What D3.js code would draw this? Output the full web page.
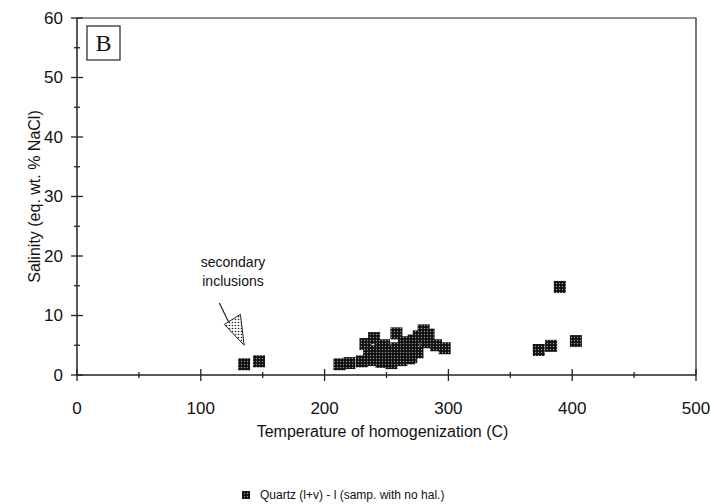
<!DOCTYPE html>
<html lang="en">
<head>
<meta charset="utf-8">
<title>Salinity vs temperature</title>
<style>
  html, body { margin: 0; background: #fff; }
  svg { display: block; font-family: "Liberation Sans", Arial, sans-serif; }
</style>
</head>
<body>
<script src="https://cdn.jsdelivr.net/npm/d3@7/dist/d3.min.js"></script>
<script>
const W = 711, H = 504
const margin = {left: 77, right: 15, top: 18, bottom: 129}

// Quartz (l+v) - l, samples with no halite
const temps = [135, 147,
  212, 220, 230, 238, 246, 254, 262, 270,
  233, 240, 248, 252, 258, 264, 270, 276, 280, 284, 290, 297,
  238, 245, 250, 256, 262, 268, 275, 242, 250, 258, 266, 272, 236, 282,
  373, 383, 390, 403]
const salinity = [1.8, 2.3,
  1.8, 2.0, 2.3, 2.5, 2.2, 2.0, 2.5, 3.0,
  5.2, 6.2, 5.0, 4.0, 7.0, 5.5, 4.5, 6.5, 7.5, 6.8, 5.0, 4.5,
  3.5, 4.5, 3.3, 3.0, 3.8, 2.8, 3.8, 3.0, 2.5, 4.5, 3.5, 5.8, 4.0, 5.5,
  4.2, 4.9, 14.8, 5.7]
const xTicks = [0, 100, 200, 300, 400, 500]
const yTicks = [0, 10, 20, 30, 40, 50, 60]
const xMinor = d3.range(0, 501, 50)
const yMinor = d3.range(0, 61, 5)

const svg = d3.select('body').append('svg')
  .attr('width', W).attr('height', H)

const defs = svg.append('defs')
const pat = defs.append('pattern')
  .attr('id', 'dots').attr('patternUnits', 'userSpaceOnUse')
  .attr('width', 3).attr('height', 3)
pat.append('rect').attr('width', 3).attr('height', 3).attr('fill', '#111')
pat.append('circle').attr('cx', 1.5).attr('cy', 1.5).attr('r', 0.7).attr('fill', '#999')
const pat2 = defs.append('pattern')
  .attr('id', 'hatch').attr('patternUnits', 'userSpaceOnUse')
  .attr('width', 3).attr('height', 3)
pat2.append('rect').attr('width', 3).attr('height', 3).attr('fill', '#fff')
pat2.append('circle').attr('cx', 1.5).attr('cy', 1.5).attr('r', 0.8).attr('fill', '#222')

const x = d3.scaleLinear().domain([0, 500]).range([margin.left, W - margin.right])
const y = d3.scaleLinear().domain([0, 60]).range([H - margin.bottom, margin.top])

// frame
svg.append('path')
  .attr('d', `M${x(0)},${y(60)} H${x(500)} V${y(0)}`)
  .attr('fill', 'none').attr('stroke', '#222').attr('stroke-width', 1.2)

// x axis
const gx = svg.append('g').attr('transform', `translate(0,${y(0)})`)
gx.append('line').attr('x1', x(0)).attr('x2', x(500)).attr('stroke', '#222').attr('stroke-width', 1.5)
gx.selectAll('line.t').data(xMinor).join('line')
  .attr('class', 't')
  .attr('x1', d => x(d)).attr('x2', d => x(d))
  .attr('y1', d => d % 100 === 0 ? -6 : -3).attr('y2', d => d % 100 === 0 ? 6 : 3)
  .attr('stroke', '#222').attr('stroke-width', 1.3)
gx.selectAll('text').data(xTicks).join('text')
  .attr('x', d => x(d)).attr('y', 39)
  .attr('text-anchor', 'middle').attr('font-size', 17).attr('fill', '#111')
  .text(d => d)

// y axis
const gy = svg.append('g').attr('transform', `translate(${x(0)},0)`)
gy.append('line').attr('y1', y(0)).attr('y2', y(60)).attr('stroke', '#222').attr('stroke-width', 1.5)
gy.selectAll('line.t').data(yMinor).join('line')
  .attr('class', 't')
  .attr('y1', d => y(d)).attr('y2', d => y(d))
  .attr('x1', d => d % 10 === 0 ? -6 : -3).attr('x2', d => d % 10 === 0 ? 6 : 3)
  .attr('stroke', '#222').attr('stroke-width', 1.3)
gy.selectAll('text').data(yTicks).join('text')
  .attr('x', -14).attr('y', d => y(d)).attr('dy', '0.35em')
  .attr('text-anchor', 'end').attr('font-size', 17).attr('fill', '#111')
  .text(d => d)

// axis titles
svg.append('text')
  .attr('x', (x(0) + x(500)) / 2 - 4).attr('y', y(0) + 62)
  .attr('text-anchor', 'middle').attr('font-size', 16).attr('fill', '#111')
  .text('Temperature of homogenization (C)')
svg.append('text')
  .attr('transform', `translate(40,${(y(0) + y(60)) / 2}) rotate(-90)`)
  .attr('text-anchor', 'middle').attr('font-size', 16).attr('fill', '#111')
  .text('Salinity (eq. wt. % NaCl)')

// panel label
svg.append('rect').attr('x', 87).attr('y', 26).attr('width', 33).attr('height', 34)
  .attr('fill', '#fff').attr('stroke', '#222').attr('stroke-width', 1.2)
svg.append('text').attr('x', 103.5).attr('y', 51)
  .attr('text-anchor', 'middle').attr('font-family', '"Liberation Serif", "DejaVu Serif", serif')
  .attr('font-size', 24).attr('fill', '#111').text('B')

// points
const s = 12
svg.append('g').selectAll('rect').data(temps).join('rect')
  .attr('x', (d, i) => x(d) - s / 2)
  .attr('y', (d, i) => y(salinity[i]) - s / 2)
  .attr('width', s).attr('height', s)
  .attr('fill', 'url(#dots)')

// annotation
svg.append('text').attr('x', 233).attr('y', 267)
  .attr('text-anchor', 'middle').attr('font-size', 14).attr('fill', '#111')
  .selectAll('tspan').data(['secondary', 'inclusions']).join('tspan')
  .attr('x', 233).attr('dy', (d, i) => i ? 19 : 0).text(d => d)
svg.append('line').attr('x1', x(115)).attr('y1', y(12.1)).attr('x2', x(125)).attr('y2', y(7.8))
  .attr('stroke', '#222').attr('stroke-width', 1.2)
svg.append('path')
  .attr('d', `M${x(119)},${y(8.5)} L${x(132)},${y(10.2)} L${x(135)},${y(5.0)} Z`)
  .attr('fill', 'url(#hatch)').attr('stroke', '#222').attr('stroke-width', 1)

// legend
const lg = svg.append('g').attr('transform', 'translate(246,495)')
lg.append('rect').attr('x', -4).attr('y', -4).attr('width', 8).attr('height', 8).attr('fill', 'url(#dots)')
lg.append('text').attr('x', 14).attr('dy', '0.35em').attr('font-size', 12).attr('fill', '#111')
  .text('Quartz (l+v) - l (samp. with no hal.)')
</script>
</body>
</html>
